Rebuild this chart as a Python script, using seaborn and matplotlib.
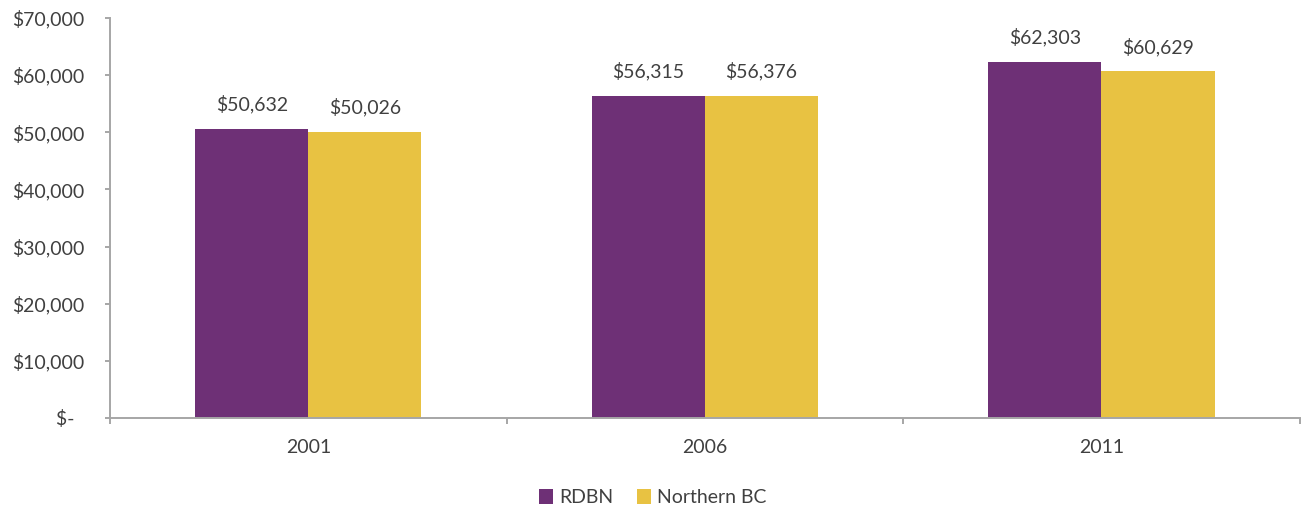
import pandas as pd
import matplotlib.pyplot as plt
import seaborn as sns
from matplotlib.ticker import FixedLocator, FuncFormatter

OUTPUT_FILE = 'out.png'

# --- Chart data ---
years = ['2001', '2006', '2011']
rdbn = [50632, 56315, 62303]
northern_bc = [50026, 56376, 60629]
series_names = ['RDBN', 'Northern BC']
colors = ['#6E3076', '#E8C242']


def money(v, pos=None):
    if v == 0:
        return '$-  '
    return f'${v:,.0f}'


def main():
    df = pd.DataFrame({
        'year': years * 2,
        'value': rdbn + northern_bc,
        'series': [series_names[0]] * 3 + [series_names[1]] * 3,
    })

    sns.set_theme(style="white")
    plt.rcParams['font.family'] = ['Lato', 'DejaVu Sans']
    text_color = '#404040'
    axis_color = '#A6A6A6'

    fig = plt.figure(figsize=(13.05, 5.11), dpi=100)
    ax = fig.add_axes([0.0843, 0.182, 0.9117, 0.783])

    sns.barplot(
        data=df, x='year', y='value', hue='series',
        palette=colors, width=0.57, gap=0, saturation=1,
        linewidth=0, ax=ax, legend=True,
    )

    # value labels above bars
    for cont in ax.containers:
        ax.bar_label(cont, labels=[money(v) for v in cont.datavalues],
                     padding=11, fontsize=14, color=text_color)

    ax.set_ylim(0, 70000)
    ax.set_xlim(-0.5, 2.5)
    ax.set_yticks(range(0, 70001, 10000))
    ax.yaxis.set_major_formatter(FuncFormatter(money))
    ax.set_xlabel('')
    ax.set_ylabel('')

    for s in ['top', 'right']:
        ax.spines[s].set_visible(False)
    for s in ['left', 'bottom']:
        ax.spines[s].set_color(axis_color)
        ax.spines[s].set_linewidth(1.4)

    ax.tick_params(axis='y', which='major', left=True, direction='out',
                   length=3.6, width=1.4, color=axis_color, labelsize=14,
                   labelcolor=text_color, pad=15)
    ax.tick_params(axis='x', which='major', length=0, labelsize=14,
                   labelcolor=text_color, pad=15)
    ax.xaxis.set_minor_locator(FixedLocator([-0.5, 0.5, 1.5, 2.5]))
    ax.tick_params(axis='x', which='minor', bottom=True, direction='out',
                   length=4.5, width=1.4, color=axis_color)

    handles, labels = ax.get_legend_handles_labels()
    ax.legend(handles, labels, loc='center',
              bbox_to_anchor=(0.5, 0.026), bbox_transform=fig.transFigure,
              ncol=2, frameon=False, fontsize=14, handlelength=0.75,
              handleheight=0.75, handletextpad=0.3, columnspacing=1.2,
              labelcolor=text_color, borderpad=0)

    plt.savefig(OUTPUT_FILE, dpi=100)


if __name__ == '__main__':
    main()
